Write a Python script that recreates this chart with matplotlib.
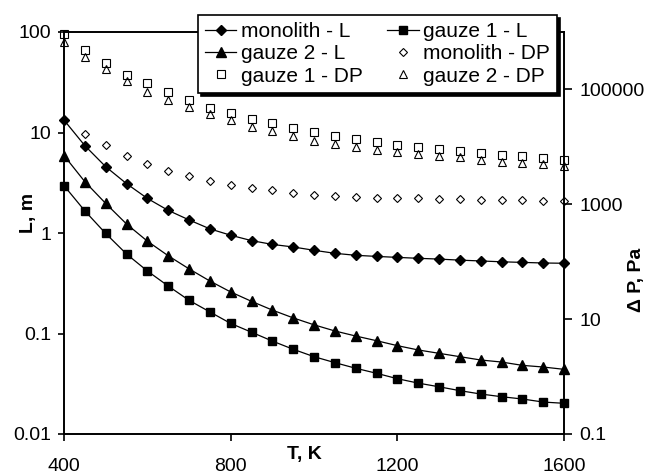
import matplotlib
matplotlib.use("Agg")
import matplotlib.pyplot as plt
from matplotlib.ticker import FixedLocator, FixedFormatter, NullLocator

plt.rcParams['font.family'] = ['Liberation Sans', 'DejaVu Sans']

# temperature, K
T = [400, 450, 500, 550, 600, 650, 700, 750, 800, 850, 900, 950, 1000,
     1050, 1100, 1150, 1200, 1250, 1300, 1350, 1400, 1450, 1500, 1550, 1600]

# length L, m (left axis)
mono_L = [13.3, 7.4, 4.57, 3.1, 2.21, 1.68, 1.35, 1.10, 0.95, 0.84, 0.77, 0.726,
          0.673, 0.628, 0.60, 0.585, 0.572, 0.56, 0.55, 0.537, 0.527, 0.517,
          0.51, 0.503, 0.50]
g2_L = [5.9, 3.24, 1.97, 1.23, 0.83, 0.594, 0.44, 0.333, 0.259, 0.209, 0.171,
        0.143, 0.122, 0.106, 0.0944, 0.0848, 0.0757, 0.0686, 0.0635, 0.0588,
        0.0545, 0.052, 0.0482, 0.0464, 0.044]
g1_L = [2.96, 1.66, 0.99, 0.618, 0.419, 0.297, 0.214, 0.164, 0.126, 0.103,
        0.0841, 0.0697, 0.0588, 0.0513, 0.0451, 0.0402, 0.0355, 0.0321, 0.0295,
        0.027, 0.025, 0.0235, 0.0223, 0.0208, 0.0202]

# pressure drop, Pa (right axis)
mono_DP = [28900, 16900, 10600, 6920, 5080, 3790, 3100, 2540, 2170, 1900, 1770,
           1590, 1450, 1400, 1350, 1300, 1290, 1270, 1250, 1230, 1200, 1180,
           1170, 1140, 1130]
g1_DP = [905000, 482000, 290000, 179000, 127000, 89800, 64400, 47900, 39200,
         30100, 26200, 21500, 18300, 15400, 13500, 12100, 10700, 9930, 9270,
         8450, 7800, 7200, 6920, 6310, 5970]
g2_DP = [665000, 365000, 223000, 139000, 90800, 65200, 49200, 36700, 28900,
         22400, 18800, 15400, 12600, 11000, 9930, 8690, 8130, 7590, 6920, 6650,
         5970, 5510, 5290, 4960, 4630]

W, H = 651, 475
fig = plt.figure(figsize=(W / 100, H / 100), dpi=100)
ax = fig.add_axes([64 / W, 1 - 434 / H, 500 / W, 402 / H])
ax2 = ax.twinx()

lw = 0.9
h1, = ax.plot(T, mono_L, '-', color='k', lw=lw, marker='D', ms=4.6,
              mfc='k', mec='k', clip_on=False, label='monolith - L')
h2, = ax.plot(T, g1_L, '-', color='k', lw=lw, marker='s', ms=5.5,
              mfc='k', mec='k', clip_on=False, label='gauze 1 - L')
h3, = ax.plot(T, g2_L, '-', color='k', lw=lw, marker='^', ms=6.5,
              mfc='k', mec='k', clip_on=False, label='gauze 2 - L')

h4, = ax2.plot(T, mono_DP, ls='none', marker='D', ms=3.8, mfc='none',
               mec='k', mew=0.8, clip_on=False, label='monolith - DP')
h5, = ax2.plot(T, g1_DP, ls='none', marker='s', ms=5.2, mfc='none',
               mec='k', mew=0.8, clip_on=False, label='gauze 1 - DP')
h6, = ax2.plot(T, g2_DP, ls='none', marker='^', ms=5.5, mfc='none',
               mec='k', mew=0.8, clip_on=False, label='gauze 2 - DP')

ax.set_xlim(400, 1600)
ax.xaxis.set_major_locator(FixedLocator([400, 800, 1200, 1600]))
ax.set_yscale('log')
ax.set_ylim(0.01, 100)
ax.yaxis.set_major_locator(FixedLocator([0.01, 0.1, 1, 10, 100]))
ax.yaxis.set_major_formatter(FixedFormatter(['0.01', '0.1', '1', '10', '100']))
ax.yaxis.set_minor_locator(NullLocator())

ax2.set_yscale('log')
ax2.set_ylim(0.1, 1e6)
ax2.yaxis.set_major_locator(FixedLocator([0.1, 10, 1000, 100000]))
ax2.yaxis.set_major_formatter(FixedFormatter(['0.1', '10', '1000', '100000']))
ax2.yaxis.set_minor_locator(NullLocator())

for a in (ax, ax2):
    for s in a.spines.values():
        s.set_linewidth(1.2)
ax.tick_params(axis='x', direction='out', length=5, width=1.2, pad=12, labelsize=14)
ax.tick_params(axis='y', direction='out', length=4, width=1.2, pad=5, labelsize=14)
ax2.tick_params(axis='y', direction='out', length=6, width=1.2, pad=5, labelsize=14)

fig.text(304 / W, 1 - 455 / H, 'T, K', fontsize=14, fontweight='bold',
         ha='center', va='center')
fig.text(28 / W, 1 - 213 / H, 'L, m', fontsize=14, fontweight='bold',
         ha='center', va='center', rotation=90)
fig.text(636 / W, 1 - 280 / H, 'Δ P, Pa', fontsize=14, fontweight='bold',
         ha='center', va='center', rotation=90)

leg = fig.legend(handles=[h1, h3, h5, h2, h4, h6], ncol=2,
                 loc='upper right', bbox_to_anchor=(557 / W, 1 - 15 / H),
                 fontsize=15, frameon=True, fancybox=False,
                 shadow={'color': 'k', 'alpha': 1},
                 handlelength=1.5, handletextpad=0.2, borderpad=0.35,
                 labelspacing=0.15, columnspacing=1.2, borderaxespad=0,
                 numpoints=1)
leg.get_frame().set_edgecolor('k')
leg.get_frame().set_linewidth(1.2)
leg.get_frame().set_alpha(1)

fig.savefig('out.png', dpi=100)
